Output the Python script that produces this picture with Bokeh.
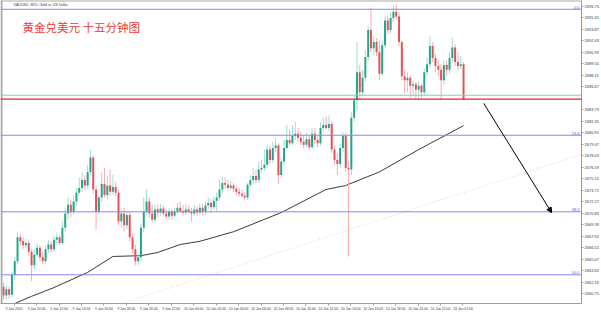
from bokeh.plotting import figure
from bokeh.models import (Range1d, LinearAxis, FixedTicker, Span, Label, Arrow,
                          NormalHead, ColumnDataSource, NumeralTickFormatter)
from bokeh.embed import file_html
from bokeh.resources import INLINE

# ---------------- data (XAUUSD M15) ----------------
opens = [2661.6, 2660.5, 2661.3, 2660.6, 2663.1, 2664.8, 2667.8, 2667.3, 2666.8, 2667.1,
         2666.0, 2664.3, 2665.6, 2666.5, 2665.3, 2664.8, 2666.3, 2666.9, 2666.3, 2667.5,
         2667.8, 2667.1, 2669.0, 2670.8, 2671.9, 2671.0, 2672.3, 2673.4, 2674.0, 2675.0,
         2674.3, 2676.0, 2677.8, 2673.8, 2671.0, 2672.8, 2674.5, 2673.1, 2674.3, 2673.5,
         2674.1, 2673.4, 2669.8, 2670.8, 2669.3, 2670.6, 2667.8, 2666.3, 2664.8, 2665.3,
         2669.0, 2671.0, 2672.3, 2670.8, 2670.0, 2671.3, 2670.9, 2671.4, 2670.8, 2670.4,
         2671.0, 2670.5, 2671.0, 2671.5, 2671.1, 2670.9, 2671.3, 2671.0, 2670.8, 2671.3,
         2670.9, 2671.5, 2671.0, 2671.8, 2672.1, 2671.6, 2672.4, 2672.8, 2673.8, 2674.6,
         2674.4, 2674.0, 2674.3, 2673.9, 2673.5, 2673.3, 2673.0, 2672.8, 2674.4, 2675.0,
         2675.5, 2675.0, 2676.3, 2676.5, 2676.9, 2678.8, 2677.5, 2679.0, 2679.3, 2675.6,
         2677.3, 2679.0, 2680.0, 2679.6, 2680.5, 2680.8, 2680.3, 2679.8, 2679.4, 2680.1,
         2679.1, 2680.8, 2680.0, 2679.6, 2681.5, 2681.9, 2681.5, 2682.0, 2678.8, 2677.5,
         2677.0, 2679.0, 2680.5, 2676.5, 2676.3, 2682.8, 2685.0, 2688.5, 2686.0, 2687.8,
         2690.4, 2693.8, 2691.5, 2692.3, 2691.0, 2688.3, 2691.9, 2695.0, 2693.8, 2695.3,
         2696.1, 2695.5, 2692.3, 2688.0, 2687.5, 2687.8, 2686.8, 2687.0, 2686.3, 2686.8,
         2686.0, 2688.5, 2689.5, 2691.8, 2690.3, 2689.3, 2688.8, 2687.5, 2689.4, 2688.8,
         2690.3, 2691.6, 2689.8, 2689.3, 2689.5]
closes = [2660.5, 2661.3, 2660.6, 2663.1, 2664.8, 2667.8, 2667.3, 2666.8, 2667.1, 2666.0,
          2664.3, 2665.6, 2666.5, 2665.3, 2664.8, 2666.3, 2666.9, 2666.3, 2667.5, 2667.8,
          2667.1, 2669.0, 2670.8, 2671.9, 2671.0, 2672.3, 2673.4, 2674.0, 2675.0, 2674.3,
          2676.0, 2677.8, 2673.8, 2671.0, 2672.8, 2674.5, 2673.1, 2674.3, 2673.5, 2674.1,
          2673.4, 2669.8, 2670.8, 2669.3, 2670.6, 2667.8, 2666.3, 2664.8, 2665.3, 2669.0,
          2671.0, 2672.3, 2670.8, 2670.0, 2671.3, 2670.9, 2671.4, 2670.8, 2670.4, 2671.0,
          2670.5, 2671.0, 2671.5, 2671.1, 2670.9, 2671.3, 2671.0, 2670.8, 2671.3, 2670.9,
          2671.5, 2671.0, 2671.8, 2672.1, 2671.6, 2672.4, 2672.8, 2673.8, 2674.6, 2674.4,
          2674.0, 2674.3, 2673.9, 2673.5, 2673.3, 2673.0, 2672.8, 2674.4, 2675.0, 2675.5,
          2675.0, 2676.3, 2676.5, 2676.9, 2678.8, 2677.5, 2679.0, 2679.3, 2675.6, 2677.3,
          2679.0, 2680.0, 2679.6, 2680.5, 2680.8, 2680.3, 2679.8, 2679.4, 2680.1, 2679.1,
          2680.8, 2680.0, 2679.6, 2681.5, 2681.9, 2681.5, 2682.0, 2678.8, 2677.5, 2677.0,
          2679.0, 2680.5, 2676.5, 2676.3, 2682.8, 2685.0, 2688.5, 2686.0, 2687.8, 2690.4,
          2693.8, 2691.5, 2692.3, 2691.0, 2688.3, 2691.9, 2695.0, 2693.8, 2695.3, 2696.1,
          2695.5, 2692.3, 2688.0, 2687.5, 2687.8, 2686.8, 2687.0, 2686.3, 2686.8, 2686.0,
          2688.5, 2689.5, 2691.8, 2690.3, 2689.3, 2688.8, 2687.5, 2689.4, 2688.8, 2690.3,
          2691.6, 2689.8, 2689.3, 2689.5, 2685.1]
highs = [2662.1, 2661.8, 2661.6, 2663.5, 2665.3, 2668.4, 2668.3, 2667.8, 2667.6, 2667.5,
         2666.3, 2666.3, 2667.0, 2666.8, 2666.0, 2666.8, 2667.5, 2667.3, 2668.0, 2668.4,
         2668.1, 2669.8, 2671.5, 2672.8, 2672.5, 2673.0, 2674.0, 2675.3, 2676.0, 2675.6,
         2676.9, 2678.8, 2678.1, 2674.3, 2673.1, 2676.0, 2676.5, 2675.5, 2676.3, 2675.6,
         2674.8, 2673.8, 2671.3, 2671.5, 2671.0, 2671.0, 2668.3, 2666.9, 2665.8, 2669.5,
         2672.8, 2673.8, 2672.8, 2671.9, 2671.9, 2671.9, 2672.0, 2671.8, 2671.3, 2671.5,
         2671.4, 2671.5, 2672.1, 2672.3, 2671.9, 2672.0, 2671.8, 2671.5, 2671.8, 2671.6,
         2672.0, 2672.0, 2672.3, 2672.8, 2672.6, 2672.9, 2673.4, 2675.0, 2675.4, 2675.3,
         2675.0, 2674.9, 2674.6, 2674.3, 2674.0, 2673.8, 2673.5, 2674.6, 2675.6, 2676.5,
         2676.3, 2677.3, 2677.5, 2678.8, 2679.4, 2679.3, 2679.8, 2680.3, 2679.6, 2677.8,
         2680.0, 2681.9, 2681.3, 2681.9, 2682.3, 2681.5, 2681.0, 2680.6, 2680.9, 2680.5,
         2681.5, 2681.5, 2680.6, 2682.3, 2682.8, 2683.0, 2683.1, 2682.4, 2679.3, 2678.3,
         2679.5, 2681.0, 2680.9, 2677.3, 2683.5, 2685.5, 2692.3, 2689.4, 2688.8, 2691.3,
         2694.4, 2696.6, 2693.1, 2692.8, 2692.5, 2692.5, 2695.6, 2695.5, 2696.0, 2696.9,
         2697.0, 2696.0, 2692.5, 2688.8, 2688.5, 2688.1, 2687.5, 2687.3, 2687.3, 2687.1,
         2689.0, 2690.3, 2693.0, 2692.3, 2690.8, 2690.0, 2689.5, 2690.0, 2690.0, 2691.0,
         2692.8, 2692.0, 2691.0, 2690.5, 2689.8]
lows = [2660.0, 2660.0, 2660.1, 2660.3, 2662.5, 2664.4, 2666.8, 2666.3, 2666.4, 2665.5,
        2662.3, 2663.8, 2665.3, 2664.8, 2664.4, 2664.5, 2665.8, 2665.9, 2666.0, 2667.0,
        2666.8, 2666.8, 2668.5, 2670.0, 2670.3, 2670.6, 2671.8, 2673.1, 2673.5, 2673.8,
        2673.9, 2675.6, 2673.3, 2668.8, 2670.6, 2672.3, 2672.8, 2672.6, 2673.0, 2673.1,
        2672.9, 2669.3, 2669.0, 2668.5, 2668.8, 2667.3, 2665.8, 2664.3, 2664.3, 2664.8,
        2668.5, 2670.6, 2670.3, 2669.8, 2669.6, 2670.3, 2670.5, 2670.4, 2670.1, 2670.0,
        2670.1, 2670.3, 2670.8, 2670.9, 2670.5, 2670.6, 2670.8, 2669.8, 2670.4, 2670.5,
        2670.6, 2670.5, 2670.6, 2671.3, 2670.9, 2671.3, 2671.0, 2672.4, 2673.4, 2673.9,
        2673.6, 2673.8, 2673.5, 2673.1, 2672.9, 2672.8, 2672.5, 2672.5, 2674.0, 2674.5,
        2674.6, 2674.6, 2675.9, 2676.1, 2676.5, 2677.0, 2677.1, 2678.5, 2674.5, 2675.3,
        2676.9, 2678.8, 2679.3, 2679.4, 2680.0, 2679.8, 2679.3, 2679.0, 2679.1, 2678.8,
        2679.0, 2679.5, 2679.1, 2679.3, 2681.1, 2681.3, 2681.1, 2678.4, 2676.9, 2675.6,
        2676.5, 2678.5, 2676.0, 2665.4, 2675.6, 2682.3, 2683.8, 2685.0, 2685.5, 2687.3,
        2690.0, 2691.0, 2690.6, 2690.5, 2687.5, 2688.0, 2691.5, 2693.3, 2693.4, 2694.8,
        2695.0, 2691.8, 2687.5, 2685.8, 2686.0, 2685.3, 2685.6, 2685.1, 2685.0, 2685.3,
        2685.6, 2688.0, 2689.0, 2689.8, 2688.5, 2688.0, 2685.0, 2687.0, 2688.0, 2688.3,
        2689.8, 2689.3, 2688.8, 2688.9, 2685.0]

# moving average (at selected bars)
ma_bars = [4, 10, 18, 30, 39, 49, 55, 63, 70, 82, 99, 115, 122, 134, 148, 164]
ma_values = [2659.5, 2660.4, 2661.5, 2663.4, 2665.4, 2665.5, 2665.9, 2666.9, 2667.3,
             2668.5, 2670.9, 2673.8, 2674.3, 2676.0, 2678.8, 2681.8]

# faint dotted trend line and drawn arrow (bar index, price)
trend_bars = [30, 206]
trend_prices = [2658.1, 2678.2]
arrow_bars = [171.2, 195.4]
arrow_prices = [2684.6, 2670.9]

# Fibonacci levels
fib_prices = [2696.4, 2680.6, 2671.0, 2663.1]
fib_labels = ["0.0", "23.6", "38.2", "50.0"]

bid_price = 2685.12
ask_price = 2685.62

price_ticks = [2696.75, 2695.31, 2693.87, 2692.43, 2690.99, 2689.55, 2688.11, 2686.67,
               2683.79, 2682.35, 2680.91, 2679.47, 2678.03, 2676.59, 2675.15,
               2673.71, 2672.27, 2670.83, 2669.39, 2667.95, 2666.51, 2665.07, 2663.63,
               2662.19, 2660.75]
time_tick_bars = [0, 8, 16, 24, 32, 40, 48, 56, 64, 72, 80, 88, 96, 104, 112, 120, 128,
                  136, 144, 152, 160]
time_tick_labels = ["9 Jan 2025", "9 Jan 10:00", "9 Jan 12:00", "9 Jan 14:00",
                    "9 Jan 16:00", "9 Jan 18:00", "9 Jan 20:00", "9 Jan 22:00",
                    "10 Jan 00:00", "10 Jan 02:00", "10 Jan 04:00", "10 Jan 06:00",
                    "10 Jan 08:00", "10 Jan 10:00", "10 Jan 12:00", "10 Jan 14:00",
                    "10 Jan 16:00", "10 Jan 18:00", "10 Jan 20:00", "10 Jan 22:00",
                    "13 Jan 01:00"]

# ---------------- styling ----------------
BULL, BEAR = "#22a58b", "#e4505a"
BULL_W, BEAR_W = "#a3dccf", "#f4adb2"
FIB = "#8888ec"
FONT = "Liberation Sans"

bars = list(range(len(closes)))
up = [c >= o for o, c in zip(opens, closes)]
src = ColumnDataSource(dict(
    x=bars, o=opens, c=closes, h=highs, l=lows,
    body=[BULL if u else BEAR for u in up],
    wick=[BULL_W if u else BEAR_W for u in up],
))

p = figure(width=601, height=313, output_backend="svg", toolbar_location=None,
           x_range=Range1d(-1.07, 206.05), y_range=Range1d(2659.5, 2697.5),
           x_axis_location=None, y_axis_location=None,
           min_border_left=0, min_border_top=0, min_border_right=19, min_border_bottom=9)
p.background_fill_color = "white"
p.border_fill_color = "white"
p.outline_line_color = None
p.xgrid.visible = False
p.ygrid.visible = False

# axes
yax = LinearAxis(ticker=FixedTicker(ticks=price_ticks),
                 formatter=NumeralTickFormatter(format="0.00"))
xtick_pos = [b + 3.8 for b in time_tick_bars]
xax = LinearAxis(ticker=FixedTicker(ticks=xtick_pos),
                 major_label_overrides={t: s for t, s in zip(xtick_pos, time_tick_labels)})
for ax in (yax, xax):
    ax.axis_line_color = "#9c9c9c"
    ax.axis_line_width = 1
    ax.major_tick_line_color = "#9c9c9c"
    ax.major_tick_out = 2
    ax.major_tick_in = 0
    ax.minor_tick_line_color = None
    ax.major_label_text_font = FONT
    ax.major_label_text_color = "#3a3a3a"
    ax.major_label_standoff = 1
yax.major_label_text_font_size = "4px"
xax.major_label_text_font_size = "3.4px"
p.add_layout(yax, "right")
p.add_layout(xax, "below")

# window edge stripes
p.add_layout(Span(location=1, location_units="screen", dimension="height",
                  line_color="#a9a9a9", line_width=2))
p.add_layout(Span(location=303, location_units="screen", dimension="width",
                  line_color="#a9a9a9", line_width=2))

# dotted trend line
p.line(trend_bars, trend_prices, line_color="#f2c4ca", line_dash="1 2", line_width=1)

# fib levels
for fp, fl in zip(fib_prices, fib_labels):
    p.add_layout(Span(location=fp, dimension="width", line_color=FIB, line_width=1))
    p.add_layout(Label(x=579, x_units="screen", y=fp, text=fl, text_align="right",
                       text_baseline="bottom", y_offset=0.5, text_font=FONT,
                       text_font_size="4px", text_color="#5a5ad8"))

# moving average
p.line(ma_bars, ma_values, line_color="#3a3a3a", line_width=1)

# candles
p.segment(x0="x", y0="h", x1="x", y1="l", source=src, line_color="wick", line_width=1)
p.vbar(x="x", top="o", bottom="c", width=0.7, source=src, fill_color="body",
       line_color=None)

# bid / ask lines
p.add_layout(Span(location=ask_price, dimension="width", line_color="#79d2bf", line_width=1))
p.add_layout(Span(location=bid_price, dimension="width", line_color="#e3262e", line_width=1.2))
p.add_layout(Label(x=583, x_units="screen", y=ask_price, text=f"{ask_price:.2f}",
                   text_baseline="middle", text_font=FONT, text_font_size="4px",
                   text_color="white", background_fill_color="#2fae94", padding=1))
p.add_layout(Label(x=583, x_units="screen", y=bid_price, text=f"{bid_price:.2f}",
                   text_baseline="middle", text_font=FONT, text_font_size="4px",
                   text_color="white", background_fill_color="#e3262e", padding=1,
                   y_offset=-1))

# arrow
p.add_layout(Arrow(end=NormalHead(size=5, fill_color="black", line_color="black"),
                   x_start=arrow_bars[0], y_start=arrow_prices[0],
                   x_end=arrow_bars[1], y_end=arrow_prices[1],
                   line_color="black", line_width=1))

# titles
p.add_layout(Label(x=13, x_units="screen", y=298.5, y_units="screen",
                   text="XAUUSD, M15:  Gold vs US Dollar", text_baseline="middle",
                   text_font=FONT, text_font_size="3.6px", text_color="#404040"))
p.add_layout(Label(x=22, x_units="screen", y=276.5, y_units="screen",
                   text="黄金兑美元 十五分钟图", text_baseline="middle",
                   text_font="Noto Sans CJK SC", text_font_size="11.5px",
                   text_color="#ee3a30"))

open("out.html", "w").write(file_html(p, INLINE))
